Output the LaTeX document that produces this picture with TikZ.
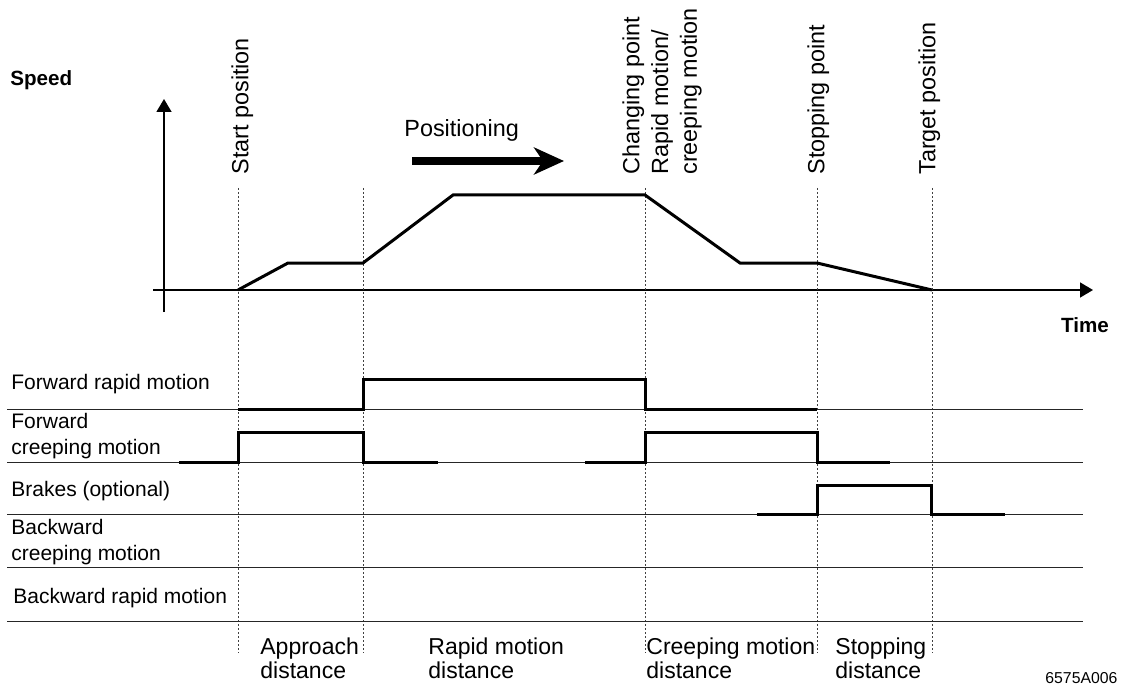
\documentclass[tikz,border=0pt]{standalone}
\usepackage{fontspec}
\setmainfont{Liberation Sans}
\usetikzlibrary{arrows.meta}

\tikzset{
  sig/.style={line width=1.5pt, line join=miter},
  rowline/.style={line width=0.5pt, black!85},
  markline/.style={line width=0.5pt, black!75, dash pattern=on 1pt off 1pt},
  axis/.style={line width=0.75pt, -{Triangle[length=6.5pt,width=7.5pt]}},
  rowlabel/.style={anchor=west, align=left, inner sep=0pt, font=\fontsize{10.5}{13}\selectfont},
  vlabel/.style={rotate=90, anchor=north west, align=left, inner sep=0pt, font=\fontsize{11.7}{14.35}\selectfont},
  dlabel/.style={anchor=north west, align=left, inner sep=0pt, font=\fontsize{11.5}{12}\selectfont},
  axlabel/.style={inner sep=0pt, font=\fontsize{10.3}{12}\selectfont\bfseries}
}

\begin{document}
\begin{tikzpicture}[x=0.5pt,y=-0.5pt]
\useasboundingbox (0,0) rectangle (1123,684);

% axes
\coordinate (origin) at (164,290);
\coordinate (ytop) at (164,99);
\coordinate (ybot) at (164,312);
\coordinate (xleft) at (153,290);
\coordinate (xright) at (1093,290);
\draw[axis] (ybot) -- (ytop);
\draw[axis] (xleft) -- (xright);
\node[axlabel, anchor=west] (speed) at (10,80) {Speed};
\node[axlabel] (time) at (1085,325) {Time};

% marker positions
\foreach \name/\x in {start/238, change1/363, change2/645, stop/817, target/932}{
  \coordinate (\name) at (\x,290);
  \draw[markline] (\x,188) -- (\x,653);
}

% rows of the switching diagram
\foreach \y in {409,462,514,567,621}
  \draw[rowline] (7,\y) -- (1083,\y);

\node[rowlabel] (fwdrapid) at (11,384) {Forward rapid motion};
\node[rowlabel] (fwdcreep) at (11,436) {Forward\\creeping motion};
\node[rowlabel] (brakes) at (11,491) {Brakes (optional)};
\node[rowlabel] (bwdcreep) at (11,542) {Backward\\creeping motion};
\node[rowlabel] (bwdrapid) at (13,598) {Backward rapid motion};

% speed profile
\draw[sig] (start) -- (288,263) -- (change1 |- 0,263) -- (453,195)
  -- (change2 |- 0,195) -- (740,263) -- (stop |- 0,263) -- (target);

% switching signals
\draw[sig] (238,409) -- (363,409) -- (363,379) -- (645,379) -- (645,409) -- (817,409);
\draw[sig] (179,462) -- (238,462) -- (238,432) -- (363,432) -- (363,462) -- (438,462);
\draw[sig] (585,462) -- (645,462) -- (645,432) -- (817,432) -- (817,462) -- (890,462);
\draw[sig] (757,514) -- (817,514) -- (817,485) -- (931,485) -- (931,514) -- (1005,514);

% positioning direction
\node[anchor=west, inner sep=0pt, font=\fontsize{11.7}{14}\selectfont] (positioning) at (404,130) {Positioning};
\coordinate (posfrom) at (412,161);
\coordinate (posto) at (564,161);
\draw[line width=4pt, -{Stealth[length=15pt,width=13.5pt,inset=4.5pt]}] (posfrom) -- (posto);

% point labels
\node[vlabel] (lstart) at (231,175) {Start position};
\node[vlabel] (lchange) at (622,175) {Changing point\\Rapid motion/\\creeping motion};
\node[vlabel] (lstop) at (807,175) {Stopping point};
\node[vlabel] (ltarget) at (918,175) {Target position};

% distances
\node[dlabel] (dapproach) at (260,637) {Approach\\distance};
\node[dlabel] (drapid) at (428,637) {Rapid motion\\distance};
\node[dlabel] (dcreep) at (646,637) {Creeping motion\\distance};
\node[dlabel] (dstop) at (835,637) {Stopping\\distance};

\node[anchor=west, inner sep=0pt, font=\fontsize{7.9}{9}\selectfont] (code) at (1045,678) {6575A006};
\end{tikzpicture}
\end{document}
